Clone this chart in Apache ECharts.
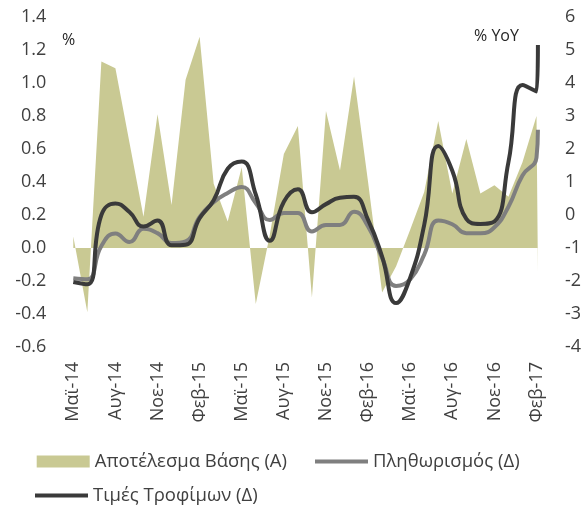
<!DOCTYPE html>
<html>
<head>
<meta charset="utf-8">
<script src="https://cdn.jsdelivr.net/npm/echarts@6/dist/echarts.min.js"></script>
<style>
    html, body { margin: 0; padding: 0; background: #fff; }
    #chart { width: 584px; height: 507px; }
</style>
</head>
<body>
<div id="chart"></div>
<script>
    "use strict";
    // monthly observations, May-14 .. Feb-17; the last entry of each series is a
    // later Feb-17 release drawn at the same month
    var months = ["Μαϊ-14","Ιουν-14","Ιουλ-14","Αυγ-14","Σεπ-14","Οκτ-14","Νοε-14","Δεκ-14","Ιαν-15","Φεβ-15","Μαρ-15","Απρ-15",
        "Μαϊ-15","Ιουν-15","Ιουλ-15","Αυγ-15","Σεπ-15","Οκτ-15","Νοε-15","Δεκ-15","Ιαν-16","Φεβ-16","Μαρ-16","Απρ-16",
        "Μαϊ-16","Ιουν-16","Ιουλ-16","Αυγ-16","Σεπ-16","Οκτ-16","Νοε-16","Δεκ-16","Ιαν-17","Φεβ-17"];
    var baseEffect = [0.07,-0.39,1.13,1.09,0.64,0.19,0.81,0.26,1.02,1.28,0.39,0.16,
        0.49,-0.34,0.08,0.57,0.74,-0.30,0.83,0.47,1.04,0.40,-0.27,-0.11,
        0.11,0.34,0.77,0.33,0.66,0.33,0.38,0.31,0.52,0.80,-0.14];
    var inflation = [-1.92,-1.95,-0.94,-0.56,-0.82,-0.42,-0.55,-0.85,-0.80,-0.06,0.39,0.67,
        0.85,0.36,-0.15,0.06,0.06,-0.50,-0.30,-0.30,0.10,-0.35,-1.30,-2.15,
        -1.95,-1.20,-0.17,-0.28,-0.55,-0.55,-0.37,0.25,1.20,1.74,2.58];
    var foodPrices = [-2.03,-2.10,0.00,0.35,0.09,-0.35,-0.17,-0.92,-0.90,-0.10,0.45,1.40,
        1.62,0.62,-0.78,0.40,0.78,0.08,0.33,0.52,0.55,-0.15,-1.26,-2.67,
        -1.90,-0.30,2.09,1.34,-0.12,-0.27,-0.20,1.60,3.94,3.74,5.15];
    var lastRelease = 33.1;

    var names = ["Αποτέλεσμα Βάσης (Α)", "Πληθωρισμός (Δ)", "Τιμές Τροφίμων (Δ)"];
    var colors = ["#c9c993", "#7f7f7f", "#3a3a3a"];
    var font = "'Open Sans', sans-serif";
    var textColor = "#404040";

    var toPoints = function (values) {
        return values.map(function (v, i) {
            return [i < months.length ? i : lastRelease, v];
        });
    };

    var legendItem = function (index, left, top, height) {
        return {
            left: left,
            top: top,
            padding: 0,
            itemWidth: 53,
            itemHeight: height,
            textStyle: { fontFamily: font, fontSize: 18.5, color: textColor },
            data: [{ name: names[index], icon: "rect" }]
        };
    };

    var chart = echarts.init(document.getElementById("chart"));
    chart.setOption({
        animation: false,
        backgroundColor: "#ffffff",
        grid: { left: 73.3, right: 44.3, top: 17, bottom: 160 },
        xAxis: {
            type: "value",
            min: 0,
            max: lastRelease,
            interval: 3,
            axisLine: { show: false },
            axisTick: { show: false },
            splitLine: { show: false },
            axisLabel: {
                rotate: 90,
                margin: 15,
                fontFamily: font,
                fontSize: 18,
                color: textColor,
                formatter: function (v) {
                    var k = Math.round(v);
                    return Math.abs(v - k) < 1e-6 && months[k] ? months[k] : "";
                }
            }
        },
        yAxis: [{
            type: "value",
            min: -0.6,
            max: 1.4,
            interval: 0.2,
            axisLine: { show: false },
            axisTick: { show: false },
            splitLine: { show: false },
            axisLabel: {
                margin: 27,
                fontFamily: font,
                fontSize: 18,
                color: textColor,
                formatter: function (v) {
                    return Math.abs(v) < 1e-9 ? "0.0" : v.toFixed(1);
                }
            }
        }, {
            type: "value",
            min: -4,
            max: 6,
            interval: 1,
            axisLine: { show: false },
            axisTick: { show: false },
            splitLine: { show: false },
            axisLabel: {
                margin: 27,
                fontFamily: font,
                fontSize: 18,
                color: textColor
            }
        }],
        legend: [
            legendItem(0, 36.7, 452, 12),
            legendItem(1, 315, 452, 4),
            legendItem(2, 35, 486, 4)
        ],
        graphic: [{
            type: "text",
            left: 62,
            top: 32,
            style: { text: "%", font: "16px " + font, fill: "#262626" }
        }, {
            type: "text",
            left: 474,
            top: 28,
            style: { text: "% YoY", font: "16px " + font, fill: "#262626" }
        }],
        series: [{
            name: names[0],
            type: "line",
            yAxisIndex: 0,
            data: toPoints(baseEffect),
            symbol: "none",
            itemStyle: { color: colors[0] },
            lineStyle: { width: 0 },
            areaStyle: { color: colors[0], opacity: 1 }
        }, {
            name: names[1],
            type: "line",
            yAxisIndex: 1,
            data: toPoints(inflation),
            symbol: "none",
            smooth: true,
            itemStyle: { color: colors[1] },
            lineStyle: { width: 4, color: colors[1] }
        }, {
            name: names[2],
            type: "line",
            yAxisIndex: 1,
            data: toPoints(foodPrices),
            symbol: "none",
            smooth: true,
            itemStyle: { color: colors[2] },
            lineStyle: { width: 4, color: colors[2] }
        }]
    });
</script>
</body>
</html>
